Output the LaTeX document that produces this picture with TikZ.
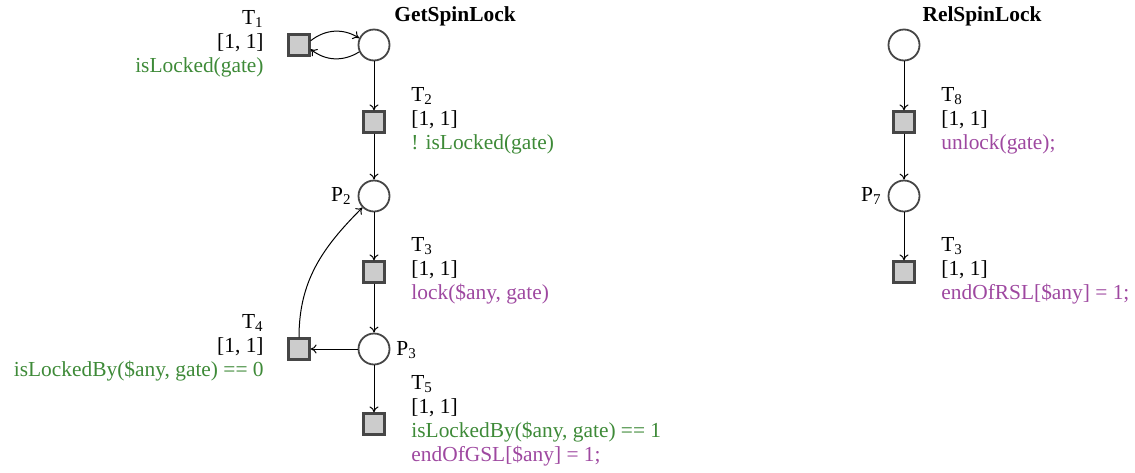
\documentclass[tikz,border=0pt]{standalone}
\usepackage{fontspec}
\setmainfont{Liberation Serif}
\usetikzlibrary{arrows.meta}
\definecolor{grn}{RGB}{62,138,56}
\definecolor{prp}{RGB}{158,72,160}
\definecolor{edge}{RGB}{70,70,70}
\tikzset{
  x=0.5pt, y=-0.5pt,
  place/.style={circle, draw=edge, line width=0.9pt, minimum size=15.5pt, inner sep=0pt, fill=white},
  trans/.style={rectangle, draw=edge, line width=1.1pt, fill=black!20, minimum size=10.5pt, inner sep=0pt},
  lblR/.style={anchor=west, align=left, inner sep=0pt, font=\fontsize{10.7}{12}\selectfont},
  lblL/.style={anchor=east, align=right, inner sep=0pt, font=\fontsize{10.7}{12}\selectfont},
  plbl/.style={inner sep=0pt, font=\fontsize{10.7}{12}\selectfont},
  ttl/.style={inner sep=0pt, font=\fontsize{10.7}{12}\selectfont\bfseries},
  arc/.style={-{To[length=3pt,width=4.5pt]}, line width=0.5pt, black},
}
\begin{document}
\begin{tikzpicture}
\useasboundingbox (0,0) rectangle (1135,472);
% GetSpinLock
\node[ttl] (tg) at (455,16) {GetSpinLock};
\node[place] (p1) at (374,45) {};
\node[trans] (t1) at (299,45) {};
\node[trans] (t2) at (374,122) {};
\node[place] (p2) at (374,196) {};
\node[trans] (t3) at (374,272) {};
\node[place] (p3) at (374,349) {};
\node[trans] (t4) at (299,349) {};
\node[trans] (t5) at (374,424) {};

\node[lblL] (l1) at (264,44) {T\textsubscript{1}\\ {[1, 1]}\\ \textcolor{grn}{isLocked(gate)}};
\node[lblR] (l2) at (411,121) {T\textsubscript{2}\\ {[1, 1]}\\ \textcolor{grn}{! isLocked(gate)}};
\node[plbl, anchor=east] (lp2) at (352,196) {P\textsubscript{2}};
\node[lblR] (l3) at (411,271) {T\textsubscript{3}\\ {[1, 1]}\\ \textcolor{prp}{lock(\$any, gate)}};
\node[plbl, anchor=west] (lp3) at (396,350) {P\textsubscript{3}};
\node[lblL] (l4) at (264,348) {T\textsubscript{4}\\ {[1, 1]}\\ \textcolor{grn}{isLockedBy(\$any, gate) == 0}};
\node[lblR] (l5) at (411,421) {T\textsubscript{5}\\ {[1, 1]}\\ \textcolor{grn}{isLockedBy(\$any, gate) == 1}\\ \textcolor{prp}{endOfGSL[\$any] = 1;}};

\draw[arc] (t1.20) to[bend left=35] (p1.155);
\draw[arc] (p1.205) to[bend left=35] (t1.-20);
\draw[arc] (p1) -- (t2);
\draw[arc] (t2) -- (p2);
\draw[arc] (p2) -- (t3);
\draw[arc] (t3) -- (p3);
\draw[arc] (p3) -- (t4);
\draw[arc] (p3) -- (t5);
\draw[arc] (t4.north) to[out=90, in=225] (p2.225);

% RelSpinLock
\node[ttl] (tr) at (982,16) {RelSpinLock};
\node[place] (q1) at (904,45) {};
\node[trans] (t8) at (904,122) {};
\node[place] (p7) at (904,196) {};
\node[trans] (t9) at (904,272) {};
\node[lblR] (l8) at (941,121) {T\textsubscript{8}\\ {[1, 1]}\\ \textcolor{prp}{unlock(gate);}};
\node[plbl, anchor=east] (lp7) at (882,196) {P\textsubscript{7}};
\node[lblR] (l9) at (941,271) {T\textsubscript{3}\\ {[1, 1]}\\ \textcolor{prp}{endOfRSL[\$any] = 1;}};
\draw[arc] (q1) -- (t8);
\draw[arc] (t8) -- (p7);
\draw[arc] (p7) -- (t9);
\end{tikzpicture}
\end{document}
